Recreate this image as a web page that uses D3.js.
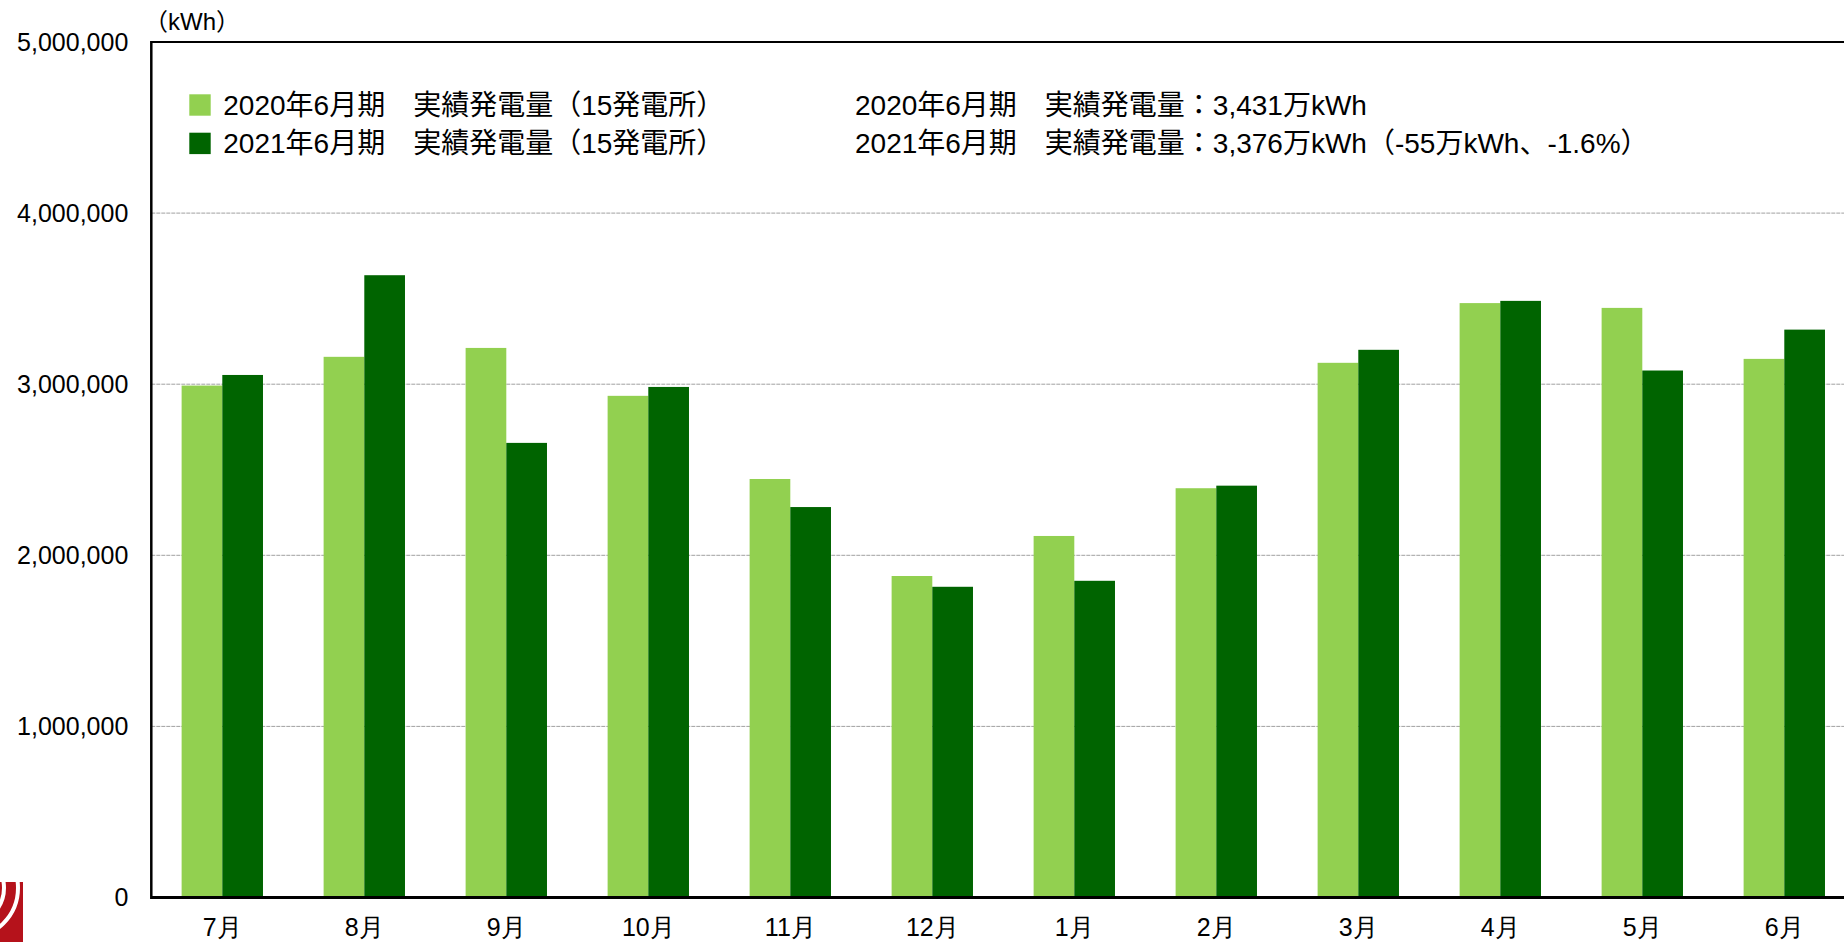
<!DOCTYPE html>
<html>
<head>
<meta charset="utf-8">
<script src="https://cdn.jsdelivr.net/npm/d3@7"></script>
<style>
  body { margin: 0; background: #fff; }
  svg { display: block; font-family: "Liberation Sans", Arial, "Noto Sans CJK JP", sans-serif; }
</style>
</head>
<body>
<div id="chart"></div>
<script>
// Data (kWh)
const months = ["7月", "8月", "9月", "10月", "11月", "12月", "1月", "2月", "3月", "4月", "5月", "6月"];
const series = ["2020年6月期", "2021年6月期"];
const values2020 = [2992000, 3160000, 3212000, 2932000, 2446000, 1879000, 2113000, 2392000, 3125000, 3474000, 3446000, 3148000];
const values2021 = [3054000, 3637000, 2657000, 2984000, 2282000, 1816000, 1851000, 2407000, 3201000, 3487000, 3080000, 3319000];
const yTicks = [0, 1000000, 2000000, 3000000, 4000000, 5000000];
const legendLabels = ["2020年6月期\u3000実績発電量（15発電所）", "2021年6月期\u3000実績発電量（15発電所）"];
const summaryLabels = ["2020年6月期\u3000実績発電量：3,431万kWh", "2021年6月期\u3000実績発電量：3,376万kWh（-55万kWh、-1.6%）"];

const width = 1844;
const height = 942;
const margin = { top: 42, left: 151.3, bottom: 897.5, right: 1855.3 };

const colors = d3.scaleOrdinal().domain(series).range(["#92d050", "#006400"]);

const svg = d3.select("#chart").append("svg")
  .attr("width", width)
  .attr("height", height);

// Scales
const x = d3.scaleBand()
  .domain(months)
  .range([margin.left, margin.right])
  .paddingInner(0.427)
  .paddingOuter(0.2135);

const xInner = d3.scaleBand()
  .domain(series)
  .range([0, x.bandwidth()]);

const y = d3.scaleLinear()
  .domain([0, 5000000])
  .range([margin.bottom, margin.top]);

// Gridlines
svg.append("g")
  .selectAll("line")
  .data(yTicks.filter((d) => d > 0 && d < 5000000))
  .enter()
  .append("line")
  .attr("x1", margin.left)
  .attr("x2", width)
  .attr("y1", (d) => y(d))
  .attr("y2", (d) => y(d))
  .attr("stroke", "#a0a0a0")
  .attr("stroke-width", 1)
  .attr("stroke-dasharray", "4,1");

// Bars
const table = months.map((m, i) => ({ month: m, vals: [values2020[i], values2021[i]] }));

const groups = svg.append("g")
  .selectAll("g")
  .data(table)
  .enter()
  .append("g")
  .attr("transform", (d) => `translate(${x(d.month)},0)`);

groups.selectAll("rect")
  .data((d) => d.vals.map((v, j) => ({ key: series[j], value: v })))
  .enter()
  .append("rect")
  .attr("x", (d) => xInner(d.key))
  .attr("width", xInner.bandwidth())
  .attr("y", (d) => y(d.value))
  .attr("height", (d) => y(0) - y(d.value))
  .attr("fill", (d) => colors(d.key));

// Frame
svg.append("line")
  .attr("x1", margin.left).attr("x2", width)
  .attr("y1", y(5000000)).attr("y2", y(5000000))
  .attr("stroke", "#000").attr("stroke-width", 2);
svg.append("line")
  .attr("x1", margin.left).attr("x2", margin.left)
  .attr("y1", y(5000000) - 1).attr("y2", y(0) + 1.5)
  .attr("stroke", "#000").attr("stroke-width", 2.5);
svg.append("line")
  .attr("x1", margin.left).attr("x2", width)
  .attr("y1", y(0)).attr("y2", y(0))
  .attr("stroke", "#000").attr("stroke-width", 3);

// Y axis labels
const yAxis = svg.append("g")
  .attr("transform", `translate(${margin.left},0)`)
  .call(d3.axisLeft(y).tickValues(yTicks).tickFormat(d3.format(",")).tickSize(0).tickPadding(23));
yAxis.select(".domain").remove();
yAxis.selectAll("text")
  .attr("fill", "#000")
  .style("font-size", "25px");

// X axis labels
const xAxis = svg.append("g")
  .attr("transform", `translate(0,${y(0)})`)
  .call(d3.axisBottom(x).tickSize(0).tickPadding(21));
xAxis.select(".domain").remove();
xAxis.selectAll("text")
  .attr("fill", "#000")
  .style("font-size", "25px");

// Unit label
svg.append("text")
  .attr("x", 144)
  .attr("y", 30)
  .style("font-size", "24px")
  .text("（kWh）");

// Legend
const legend = svg.append("g")
  .selectAll("g")
  .data(series)
  .enter()
  .append("g")
  .attr("transform", (_, i) => `translate(189.3,${94.3 + i * 38.4})`);

legend.append("rect")
  .attr("width", 21.4)
  .attr("height", 21.4)
  .attr("fill", (d) => colors(d));

legend.append("text")
  .attr("x", 34)
  .attr("y", 10.7)
  .attr("dy", "0.36em")
  .style("font-size", "28px")
  .text((_, i) => legendLabels[i]);

svg.append("g")
  .selectAll("text")
  .data(summaryLabels)
  .enter()
  .append("text")
  .attr("x", 855)
  .attr("y", (_, i) => 105 + i * 38.4)
  .attr("dy", "0.36em")
  .style("font-size", "28px")
  .text((d) => d);

// Corner mark (bottom left)
const mark = svg.append("g");
mark.append("rect")
  .attr("x", 0).attr("y", 882)
  .attr("width", 23).attr("height", 60)
  .attr("fill", "#b5121b");
mark.append("clipPath").attr("id", "markClip")
  .append("rect").attr("x", 0).attr("y", 882).attr("width", 23).attr("height", 60);
[36, 50].forEach((r) => {
  mark.append("circle")
    .attr("cx", -32).attr("cy", 888)
    .attr("r", r)
    .attr("fill", "none")
    .attr("stroke", "#fff")
    .attr("stroke-width", 4)
    .attr("clip-path", "url(#markClip)");
});
</script>
</body>
</html>
